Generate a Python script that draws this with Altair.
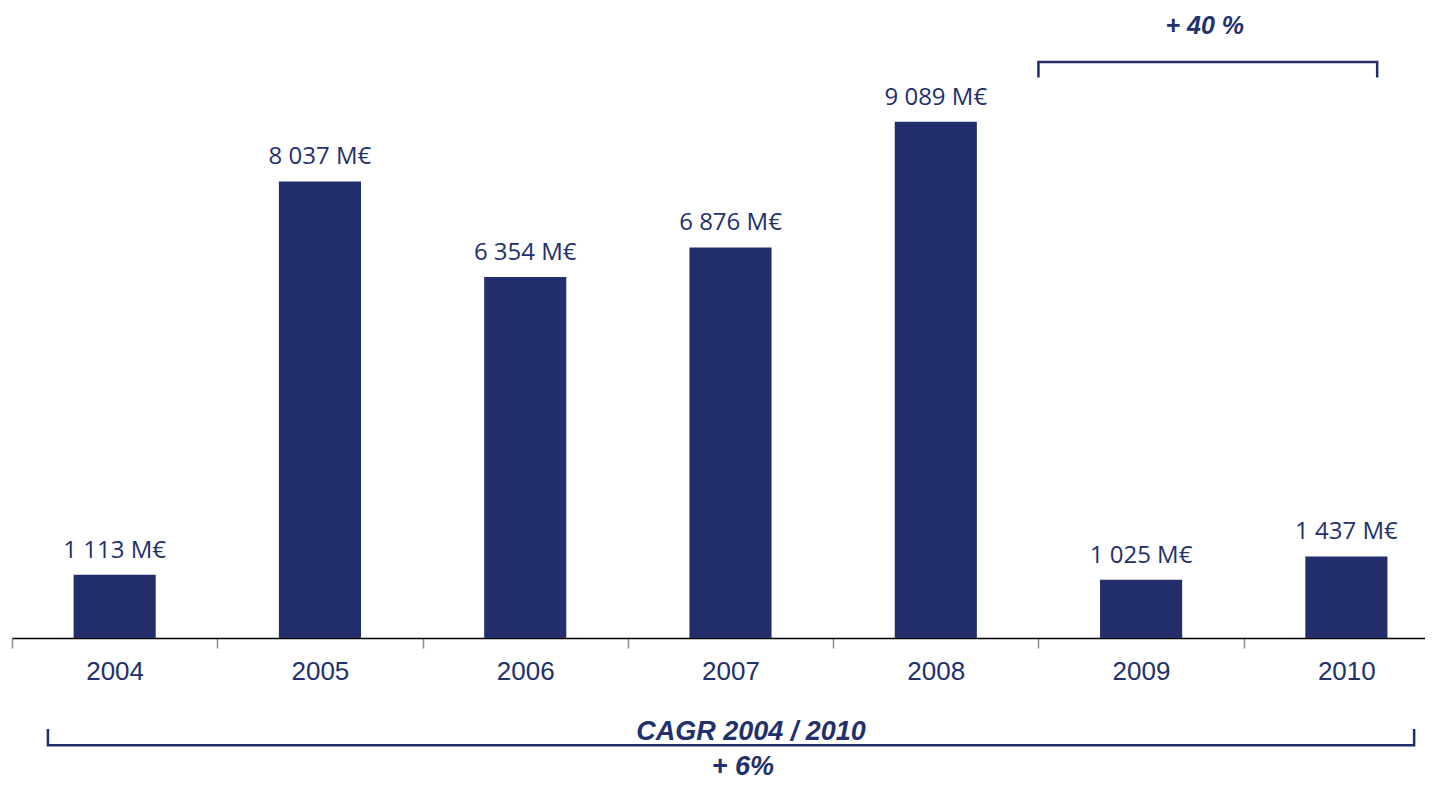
import altair as alt
import pandas as pd

# ---- data ----
years = [2004, 2005, 2006, 2007, 2008, 2009, 2010]
values = [1113, 8037, 6354, 6876, 9089, 1025, 1437]
value_labels = ["1 113 M€", "8 037 M€", "6 354 M€", "6 876 M€", "9 089 M€", "1 025 M€", "1 437 M€"]

# annotation brackets (data units: x in years, y in M€)
top_bracket_x = [2008.5, 2008.5, 2010.15, 2010.15]
top_bracket_y = [9870, 10140, 10140, 9870]
top_text = ["+ 40 %"]
top_text_x = [2009.31]
top_text_y = [10640]

bottom_bracket_x = [2003.675, 2003.675, 2010.33, 2010.33]
bottom_bracket_y = [-1600, -1890, -1890, -1600]
bottom_texts = ["CAGR 2004 / 2010", "+ 6%"]
bottom_text_x = [2007.1, 2007.06]
bottom_text_y = [-1790, -2420]

NAVY = "#212E6B"
TEXT = "#22306B"

df = pd.DataFrame({"year": years, "value": values, "label": value_labels})
top_df = pd.DataFrame({"x": top_bracket_x, "y": top_bracket_y, "o": [0, 1, 2, 3]})
bot_df = pd.DataFrame({"x": bottom_bracket_x, "y": bottom_bracket_y, "o": [0, 1, 2, 3]})
top_t = pd.DataFrame({"x": top_text_x, "y": top_text_y, "t": top_text})
bot_t = pd.DataFrame({"x": bottom_text_x, "y": bottom_text_y, "t": bottom_texts})

xscale = alt.Scale(domain=[2003.5, 2010.383], nice=False, zero=False)
yscale = alt.Scale(domain=[0, 10000], nice=False)

base = alt.Chart(df).transform_calculate(
    x0="datum.year - 0.2", x1="datum.year + 0.2"
)

bars = base.mark_bar(color=NAVY).encode(
    x=alt.X("x0:Q", scale=xscale,
            axis=alt.Axis(values=[2003.5, 2004.5, 2005.5, 2006.5, 2007.5, 2008.5, 2009.5],
                          labelExpr="format(datum.value + 0.5, 'd')",
                          labelOffset=102.6, labelFlush=False, labelOverlap=False, labelBound=False,
                          labelFont="Liberation Sans", labelFontSize=26, labelColor=TEXT,
                          labelPadding=10, tickSize=10, tickColor="#8c8c8c", tickWidth=1.5,
                          domainColor="#000000", domainWidth=1.5, grid=False, title=None)),
    x2="x1:Q",
    y=alt.Y("value:Q", scale=yscale, axis=None),
    y2=alt.datum(0),
)

labels = base.mark_text(font="Open Sans", fontSize=24, color=TEXT, baseline="alphabetic", dy=-17).encode(
    x=alt.X("year:Q", scale=xscale),
    y=alt.Y("value:Q", scale=yscale),
    text="label:N",
)

def bracket(d):
    return alt.Chart(d).mark_line(color=NAVY, strokeWidth=2.5, clip=False).encode(
        x=alt.X("x:Q", scale=xscale),
        y=alt.Y("y:Q", scale=yscale),
        order="o:Q",
    )

def ann_text(d, size):
    return alt.Chart(d).mark_text(font="Liberation Sans", fontSize=size,
                                  fontWeight="bold", fontStyle="italic", color=TEXT,
                                  baseline="alphabetic").encode(
        x=alt.X("x:Q", scale=xscale),
        y=alt.Y("y:Q", scale=yscale),
        text="t:N",
    )

chart = alt.layer(
    bars, labels, bracket(top_df), bracket(bot_df), ann_text(top_t, 25), ann_text(bot_t, 27)
).properties(
    width=1413, height=568,
    padding={"left": 4, "top": 62, "right": 0, "bottom": 144},
    autosize="none",
    background="white",
).configure_view(strokeWidth=0, stroke="transparent")

chart.save("out.html", embed_options={"renderer": "svg", "actions": False})
